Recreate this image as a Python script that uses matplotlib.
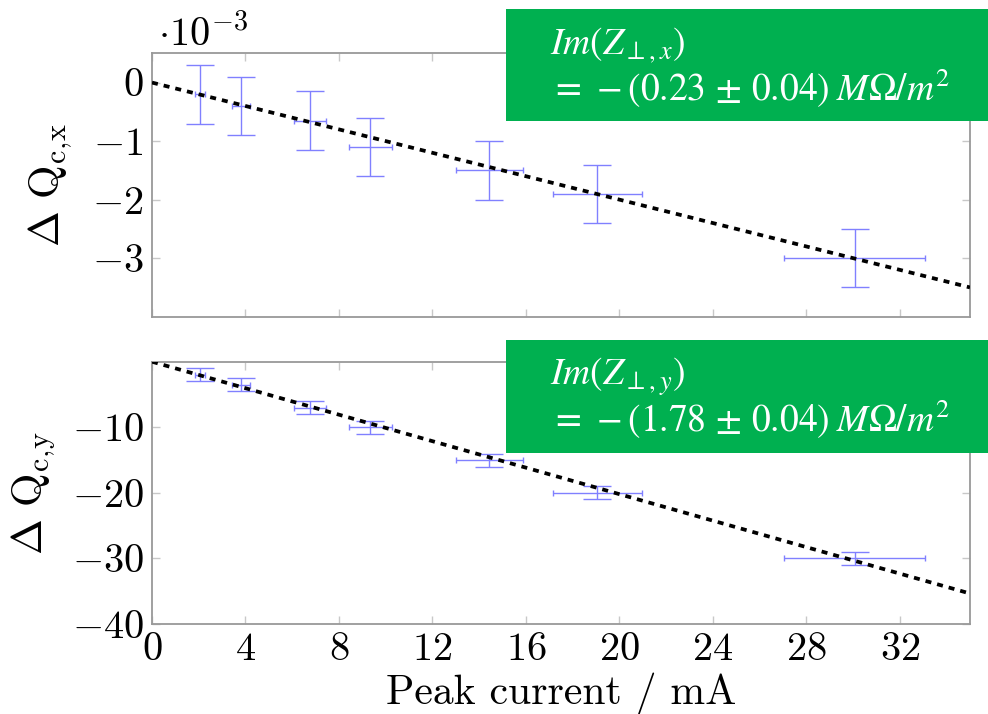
import matplotlib
matplotlib.use("Agg")
import matplotlib.pyplot as plt
import numpy as np

# Peak current (mA) and its uncertainty
current = [2.06, 3.80, 6.77, 9.34, 14.44, 19.06, 30.06]
current_err = [0.21, 0.38, 0.68, 0.93, 1.44, 1.91, 3.01]

# Horizontal coherent tune shift (units of 1e-3)
dqx = [-0.20, -0.40, -0.65, -1.10, -1.50, -1.90, -3.00]
dqx_err = [0.50, 0.50, 0.50, 0.50, 0.50, 0.50, 0.50]

# Vertical coherent tune shift
dqy = [-2.0, -3.5, -7.0, -10.0, -15.0, -20.0, -30.0]
dqy_err = [1.0, 1.0, 1.0, 1.0, 1.0, 1.0, 1.0]

# Linear fit slopes (per mA)
slope_x = -0.100
slope_y = -1.010
fit_range = [0.0, 35.0]

xticks = [0, 4, 8, 12, 16, 20, 24, 28, 32]
yticks_x = [-3, -2, -1, 0]
yticks_y = [-40, -30, -20, -10]

box_x = [r"$Im(Z_{\perp,x})$", r"$=\,-(0.23\,\pm\,0.04)\;M\Omega/m^2$"]
box_y = [r"$Im(Z_{\perp,y})$", r"$=\,-(1.78\,\pm\,0.04)\;M\Omega/m^2$"]

plt.rcParams["font.family"] = "cmr10"
plt.rcParams["mathtext.fontset"] = "cm"
plt.rcParams["axes.formatter.use_mathtext"] = True

W, H = 988, 714
fig = plt.figure(figsize=(W / 100, H / 100), dpi=100)

def frac(x0, y0, x1, y1):
    return [x0 / W, 1 - y1 / H, (x1 - x0) / W, (y1 - y0) / H]

ax1 = fig.add_axes(frac(152, 53.3, 970, 316.7))
ax2 = fig.add_axes(frac(152, 361.7, 970, 624))

ebc = "#8080ff"
spine_c = "#999999"
tick_c = "#c8c8c8"

def draw(ax, y, yerr, slope):
    ax.errorbar(current, y, yerr=yerr, fmt="none", ecolor=ebc,
                elinewidth=1.0, capsize=10, capthick=1.0, zorder=2)
    ax.errorbar(current, y, xerr=current_err, fmt="none", ecolor=ebc,
                elinewidth=1.0, capsize=2.5, capthick=1.0, zorder=2)
    fx = np.array(fit_range)
    ax.plot(fx, slope * fx, color="black", lw=2.7,
            linestyle=(0, (1.6, 1.6)), zorder=3)
    ax.set_xlim(0, 35)
    ax.set_xticks(xticks)
    for s in ax.spines.values():
        s.set_color(spine_c)
        s.set_linewidth(1.3)
    ax.tick_params(direction="in", length=6, width=1.0, color=tick_c,
                   top=True, right=True, labelsize=29, pad=6)

draw(ax1, dqx, dqx_err, slope_x)
ax1.set_ylim(-4, 0.5)
ax1.set_yticks(yticks_x)
ax1.tick_params(labelbottom=False)
ax1.set_ylabel(r"$\Delta\ \mathrm{Q_{c,\!x}}$", fontsize=31)
ax1.yaxis.set_label_coords(-0.095, 0.5)
fig.text(158 / W, 1 - 46 / H, r"$\cdot 10^{-3}$", fontsize=29, va="baseline")

draw(ax2, dqy, dqy_err, slope_y)
ax2.set_ylim(-40, 0)
ax2.set_yticks(yticks_y)
ax2.set_ylabel(r"$\Delta\ \mathrm{Q_{c,\!y}}$", fontsize=31)
ax2.yaxis.set_label_coords(-0.115, 0.5)
ax2.set_xlabel("Peak current / mA", fontsize=30, labelpad=3)

green = "#00b050"

def box(y0, y1, lines):
    fig.patches.append(plt.Rectangle((506 / W, 1 - y1 / H), (W - 506) / W,
                                     (y1 - y0) / H, transform=fig.transFigure,
                                     facecolor=green, edgecolor="none", zorder=5))
    fig.text(550 / W, 1 - (y0 + 45) / H, lines[0], color="white", fontsize=27,
             va="baseline", math_fontfamily="stix", zorder=6)
    fig.text(550 / W, 1 - (y0 + 92) / H, lines[1], color="white", fontsize=27,
             va="baseline", math_fontfamily="stix", zorder=6)

box(9, 120.7, box_x)
box(340, 453.3, box_y)

fig.savefig("out.png", dpi=100)
